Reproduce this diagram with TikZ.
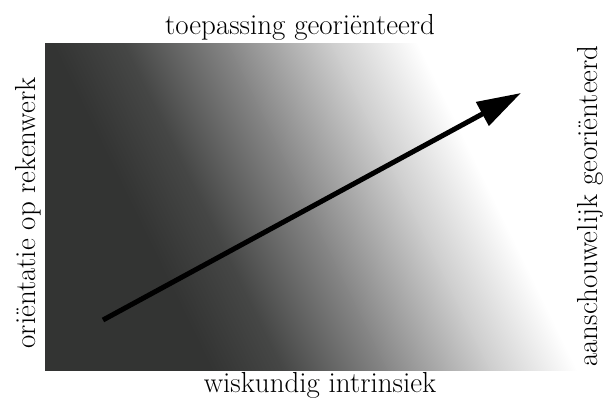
\documentclass[tikz,border=0pt]{standalone}
\usepackage{fontspec}
\usetikzlibrary{arrows.meta}
\definecolor{dk}{RGB}{51,52,51}
\definecolor{g1}{RGB}{70,71,70}
\definecolor{g2}{RGB}{135,135,135}
\definecolor{g3}{RGB}{205,205,205}
\tikzset{
  lbl/.style={inner sep=0pt, font=\fontsize{29}{34}\selectfont},
  bigarrow/.style={line width=5pt, -{Triangle[length=44pt,width=26pt]}},
}
\begin{document}
\begin{tikzpicture}[x=1pt,y=1pt]
\useasboundingbox[fill=white] (0,0) rectangle (608,398);
% gradient panel
\begin{scope}
  \clip (45,27) rectangle (580,354);
  \begin{scope}[transform canvas={rotate around={26:(312,191)}}]
    \fill[dk] (-600,-900) rectangle (151,900);
    \shade[left color=dk, right color=g1] (150,-900) rectangle (216,900);
    \shade[left color=g1, right color=g2] (215,-900) rectangle (309,900);
    \shade[left color=g2, right color=g3] (308,-900) rectangle (401,900);
    \shade[left color=g3, right color=white] (400,-900) rectangle (479,900);
  \end{scope}
\end{scope}
% labels
\node[lbl, anchor=base] (top) at (300,363) {toepassing georiënteerd};
\node[lbl, anchor=base] (bottom) at (320,5) {wiskundig intrinsiek};
\node[lbl, anchor=base, rotate=90] (left) at (35,185) {oriëntatie op rekenwerk};
\node[lbl, anchor=base, rotate=90] (right) at (597,192) {aanschouwelijk georiënteerd};
% arrow
\coordinate (a) at (103,78);
\coordinate (b) at (521,305);
\draw[bigarrow] (a) -- (b);
\end{tikzpicture}
\end{document}
